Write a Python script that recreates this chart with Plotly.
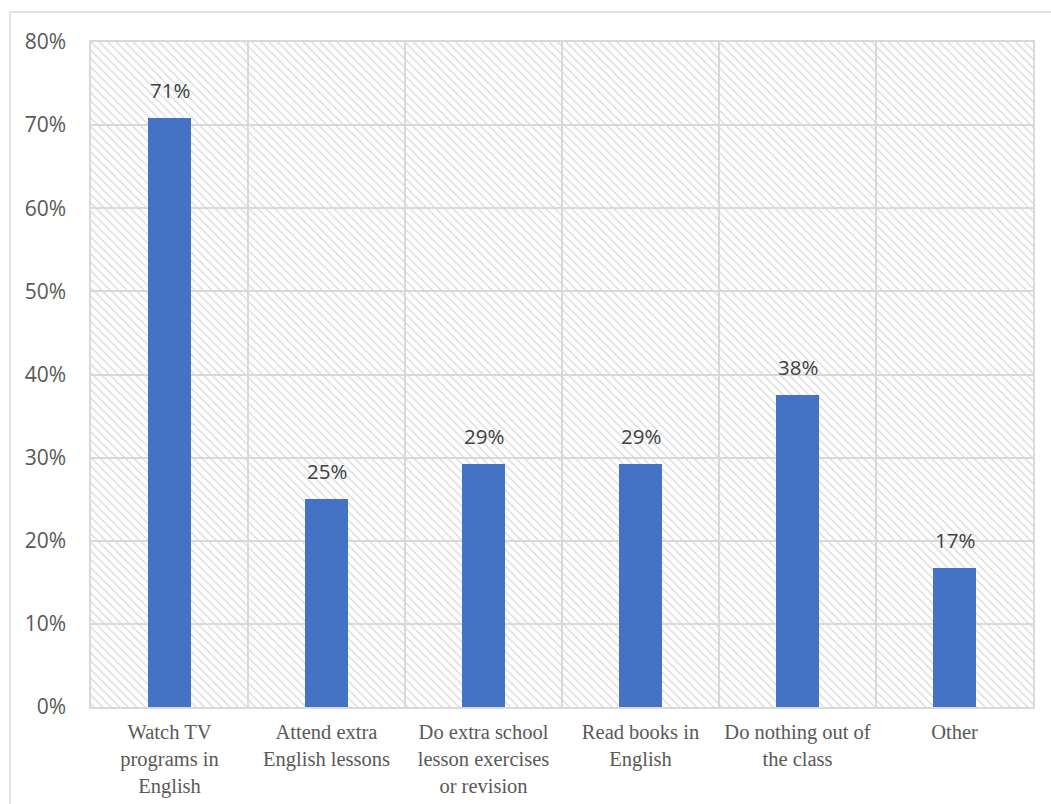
import plotly.graph_objects as go

categories = [
    "Watch TV<br>programs in<br>English",
    "Attend extra<br>English lessons",
    "Do extra school<br>lesson exercises<br>or revision",
    "Read books in<br>English",
    "Do nothing out of<br>the class",
    "Other",
]
values = [0.708, 0.25, 0.292, 0.292, 0.375, 0.167]
labels = ["71%", "25%", "29%", "29%", "38%", "17%"]
y_max = 0.8
y_ticks = [0, 0.1, 0.2, 0.3, 0.4, 0.5, 0.6, 0.7, 0.8]

W, H = 1051, 804
ml, mr, mt, mb = 91, 18, 42, 97
pw, ph = W - ml - mr, H - mt - mb

fig = go.Figure()

# hatched plot-area background
fig.add_trace(go.Bar(
    x=categories, y=[y_max] * len(categories), width=1,
    marker=dict(color="rgba(255,255,255,0)", line=dict(width=0),
                pattern=dict(shape="\\", size=6, solidity=0.2,
                             fgcolor="#d6d6d6", bgcolor="rgba(255,255,255,0)",
                             fillmode="replace")),
    hoverinfo="skip", showlegend=False,
))

fig.add_trace(go.Bar(
    x=categories, y=values, width=0.27,
    marker=dict(color="#4472C4", line=dict(width=0)),
    showlegend=False, hoverinfo="x+y",
))

annotations = [
    dict(x=c, y=v, text=t, showarrow=False, xref="x", yref="y",
         yanchor="bottom", yshift=12,
         font=dict(family="Open Sans", size=20.5, color="#404040"))
    for c, v, t in zip(categories, values, labels)
]

fig.update_layout(
    width=W, height=H,
    margin=dict(l=ml, r=mr, t=mt, b=mb, autoexpand=False),
    paper_bgcolor="white", plot_bgcolor="white",
    barmode="overlay",
    bargap=0,
    annotations=annotations,
    xaxis=dict(
        tickson="boundaries", showgrid=True, gridcolor="#d9d9d9", gridwidth=1.5,
        showline=True, linecolor="#d9d9d9", linewidth=1.5, mirror=True,
        ticks="", ticklen=0, ticklabelstandoff=6, automargin=False,
        tickfont=dict(family="Liberation Serif", size=20.5, color="#595959"),
        range=[-0.5, len(categories) - 0.5],
    ),
    yaxis=dict(
        range=[0, y_max], tickvals=y_ticks, tickformat=".0%",
        showgrid=True, gridcolor="#d9d9d9", gridwidth=1.5,
        showline=True, linecolor="#d9d9d9", linewidth=1.5, mirror=True,
        zeroline=False, ticks="", ticklabelstandoff=19, automargin=False,
        tickfont=dict(family="Open Sans", size=21, color="#595959"),
    ),
    shapes=[dict(
        type="rect", xref="paper", yref="paper",
        x0=(10 - ml) / pw, x1=(W + 20 - ml) / pw,
        y0=-(H + 20 - mt - ph) / ph, y1=(ph + mt - 12) / ph,
        line=dict(color="#d9d9d9", width=1.5), fillcolor="rgba(0,0,0,0)",
        layer="below",
    )],
)

fig.write_html("out.html")
